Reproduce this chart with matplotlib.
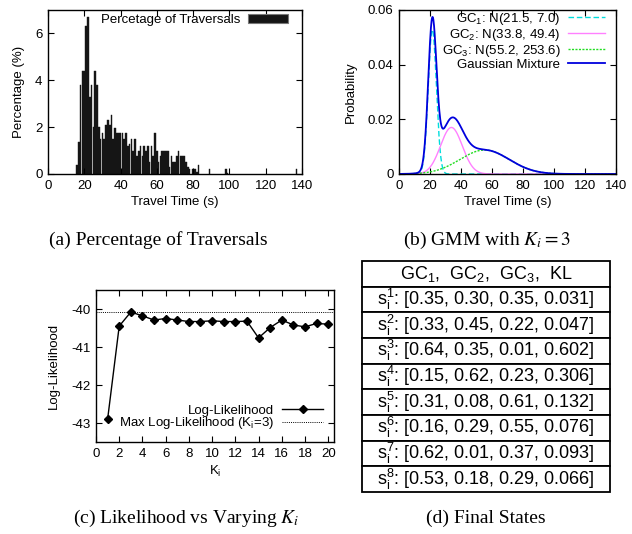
import numpy as np
import matplotlib
matplotlib.use("Agg")
import matplotlib.pyplot as plt
from matplotlib.patches import Patch
from matplotlib.lines import Line2D
from matplotlib.ticker import FuncFormatter

plt.rcParams["font.family"] = ["Liberation Sans", "DejaVu Sans"]
plt.rcParams["mathtext.fontset"] = "custom"
plt.rcParams["mathtext.rm"] = "Liberation Sans"
plt.rcParams["mathtext.it"] = "Liberation Sans:italic"
plt.rcParams["mathtext.bf"] = "Liberation Sans:bold"
plt.rcParams["axes.unicode_minus"] = False
FS = 9.5
plt.rcParams["font.size"] = FS

W, H = 632, 534

# (a) percentage of traversals per 1 s travel-time bin
travel_time = list(range(16, 79)) + [80, 81, 82, 83, 89, 98, 99, 137]
traversal_pct = [0.4, 1.35, 3.8, 4.4, 4.4, 6.3, 6.7, 3.3, 3.8, 2.0,
                 4.4, 3.8, 2.0, 1.5, 1.75, 1.5, 2.1, 2.3, 2.1, 2.5,
                 1.5, 1.95, 1.75, 1.75, 1.75, 1.75, 1.5, 1.75, 1.2, 1.3,
                 1.5, 1.0, 1.5, 0.75, 1.0, 1.2, 0.75, 1.2, 1.0, 1.2,
                 0.5, 1.2, 0.75, 1.75, 1.0, 0.5, 0.75, 1.0, 1.0, 1.0,
                 1.0, 0.3, 0.75, 0.5, 0.5, 0.75, 1.0, 0.75, 0.75, 0.75,
                 0.5, 0.3, 0.2, 0.2, 0.2, 0.1, 0.4, 0.2, 0.2, 0.05, 0.2]

# (b) gaussian components (mean, variance, weight)
gc_mean = [21.5, 33.8, 55.2]
gc_var = [7.0, 49.4, 253.6]
gc_weight = [0.35, 0.30, 0.35]
gc_labels = ["GC$_1$: N(21.5, 7.0)", "GC$_2$: N(33.8, 49.4)",
             "GC$_3$: N(55.2, 253.6)"]
gc_colors = ["#00dddd", "#ff80ff", "#22dd22"]
gc_styles = [(0, (4, 2)), "-", (0, (1.5, 1))]

# (c) log-likelihood for K_i = 1..20
k_values = list(range(1, 21))
log_lik = [-42.90, -40.45, -40.08, -40.18, -40.29, -40.25, -40.29, -40.33,
           -40.33, -40.31, -40.33, -40.33, -40.32, -40.76, -40.49, -40.29,
           -40.42, -40.47, -40.38, -40.40]

# (d) final states
state_header = "GC$_1$,  GC$_2$,  GC$_3$,  KL"
state_rows = [[0.35, 0.30, 0.35, 0.031],
              [0.33, 0.45, 0.22, 0.047],
              [0.64, 0.35, 0.01, 0.602],
              [0.15, 0.62, 0.23, 0.306],
              [0.31, 0.08, 0.61, 0.132],
              [0.16, 0.29, 0.55, 0.076],
              [0.62, 0.01, 0.37, 0.093],
              [0.53, 0.18, 0.29, 0.066]]


def px_axes(fig, left, top, right, bottom):
    # pixel box (from top-left) -> figure fraction
    return fig.add_axes([left / W, 1 - bottom / H, (right - left) / W, (bottom - top) / H])


def gnuplot_ticks(ax):
    ax.tick_params(direction="in", top=True, right=True, length=4, width=0.8,
                   labelsize=FS, pad=4)
    for s in ax.spines.values():
        s.set_linewidth(1.0)


def caption(fig, x, y, text):
    fig.text(x / W, 1 - y / H, text, ha="center", va="center", fontsize=14,
             family=["Liberation Serif"], math_fontfamily="stix")


fig = plt.figure(figsize=(W / 100, H / 100), dpi=100)

# (a)
ax = px_axes(fig, 48, 10, 302, 174)
ax.bar(travel_time, traversal_pct, width=0.9, color="#151515",
       edgecolor="#151515", linewidth=0.3)
ax.set_xlim(0, 140)
ax.set_ylim(0, 7)
ax.set_xticks(range(0, 141, 20))
ax.set_yticks([0, 2, 4, 6])
ax.set_xlabel("Travel Time (s)", fontsize=FS, labelpad=3)
ax.set_ylabel("Percentage (%)", fontsize=FS, labelpad=7)
gnuplot_ticks(ax)
ax.legend([Patch(facecolor="#151515", edgecolor="#777777", linewidth=0.8)],
          ["Percetage of Traversals"], loc="upper right", frameon=False,
          markerfirst=False, handlelength=3.0, handleheight=0.65,
          handletextpad=0.6, borderpad=0, borderaxespad=0,
          bbox_to_anchor=(0.945, 0.975), fontsize=FS)

# (b)
ax = px_axes(fig, 399, 10, 616, 174)
x = np.linspace(0, 140, 701)
mix = np.zeros_like(x)
handles = []
for m, v, w, c, ls in zip(gc_mean, gc_var, gc_weight, gc_colors, gc_styles):
    y = w * np.exp(-(x - m) ** 2 / (2 * v)) / np.sqrt(2 * np.pi * v)
    mix += y
    h, = ax.plot(x, y, color=c, linestyle=ls, linewidth=1.0)
    handles.append(h)
h, = ax.plot(x, mix, color="#0000dd", linewidth=1.3)
handles.append(h)
ax.set_xlim(0, 140)
ax.set_ylim(0, 0.06)
ax.set_xticks(range(0, 141, 20))
ax.set_yticks([0, 0.02, 0.04, 0.06])
ax.yaxis.set_major_formatter(FuncFormatter(lambda v, p: "0" if v == 0 else f"{v:.2f}"))
ax.set_xlabel("Travel Time (s)", fontsize=FS, labelpad=3)
ax.set_ylabel("Probability", fontsize=FS, labelpad=8)
gnuplot_ticks(ax)
ax.legend(handles, gc_labels + ["Gaussian Mixture"], loc="upper right",
          frameon=False, markerfirst=False, handlelength=2.8,
          handletextpad=0.6, labelspacing=0.0, borderpad=0,
          borderaxespad=0, bbox_to_anchor=(0.95, 0.995), fontsize=FS)

# (c)
ax = px_axes(fig, 96, 290, 334, 442)
ax.plot(k_values, log_lik, color="black", linewidth=1.0, marker="D",
        markersize=4.5)
ax.axhline(max(log_lik), color="black", linestyle=(0, (1, 1.2)), linewidth=0.7)
ax.set_xlim(0, 20.5)
ax.set_ylim(-43.5, -39.5)
ax.set_xticks(range(0, 21, 2))
ax.set_yticks([-40, -41, -42, -43])
ax.set_xlabel("K$_\\mathrm{i}$", fontsize=FS, labelpad=3)
ax.set_ylabel("Log-Likelihood", fontsize=FS, labelpad=8)
gnuplot_ticks(ax)
ax.legend([Line2D([], [], color="black", lw=1.0, marker="D", ms=4.5),
           Line2D([], [], color="black", lw=0.7, ls=(0, (1, 1.2)))],
          ["Log-Likelihood", "Max Log-Likelihood (K$_\\mathrm{i}$=3)"],
          loc="lower right", frameon=False, markerfirst=False,
          handlelength=3.1, handletextpad=0.6, labelspacing=-0.1,
          borderpad=0, borderaxespad=0, bbox_to_anchor=(0.955, 0.07),
          fontsize=FS)

# (d) table
ax = px_axes(fig, 362, 261, 610, 492)
ax.axis("off")
cells = [[state_header]]
for i, row in enumerate(state_rows, start=1):
    vals = ", ".join(f"{v:.3f}" if j == 3 else f"{v:.2f}" for j, v in enumerate(row))
    cells.append([f"s$_\\mathrm{{i}}^\\mathrm{{{i}}}$: [{vals}]"])
tbl = ax.table(cellText=cells, cellLoc="center", bbox=[0, 0, 1, 1])
tbl.auto_set_font_size(False)
tbl.set_fontsize(13)
for cell in tbl.get_celld().values():
    cell.set_linewidth(1.3)
    cell.set_edgecolor("black")

caption(fig, 158, 240, "(a) Percentage of Traversals")
caption(fig, 487, 240, "(b) GMM with $K_i = 3$")
caption(fig, 186, 518, "(c) Likelihood vs Varying $K_i$")
caption(fig, 486, 518, "(d) Final States")

fig.savefig("out.png", dpi=100)
